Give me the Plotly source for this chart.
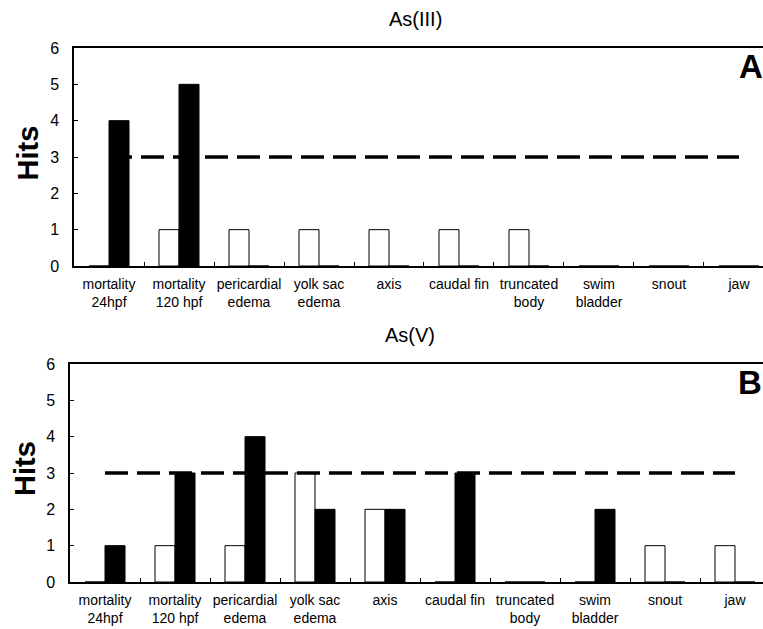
import plotly.graph_objects as go

categories = ["mortality<br>24hpf", "mortality<br>120 hpf", "pericardial<br>edema",
              "yolk sac<br>edema", "axis", "caudal fin", "truncated<br>body",
              "swim<br>bladder", "snout", "jaw"]
as3_white = [0, 1, 1, 1, 1, 1, 1, 0, 0, 0]
as3_black = [4, 5, 0, 0, 0, 0, 0, 0, 0, 0]
as5_white = [0, 1, 1, 3, 2, 0, 0, 0, 1, 1]
as5_black = [1, 3, 4, 2, 2, 3, 0, 2, 0, 0]
threshold = 3
titles = ["As(III)", "As(V)"]
panel_letters = ["A", "B"]

W, H = 763, 629
FONT = "Arial, Liberation Sans, sans-serif"

fig = go.Figure()

def px_x(v):
    return v / W

def px_y(v):
    return 1 - v / H

panels = [
    dict(white=as3_white, black=as3_black, xa="x", ya="y",
         left=74, top=48, bottom=266, xr=[-0.5, 9.343]),
    dict(white=as5_white, black=as5_black, xa="x2", ya="y2",
         left=70, top=364, bottom=582, xr=[-0.5, 9.4]),
]

for p in panels:
    fig.add_trace(go.Bar(x=categories, y=p["white"], xaxis=p["xa"], yaxis=p["ya"],
                         marker=dict(color="white", line=dict(color="black", width=1)),
                         showlegend=False))
    fig.add_trace(go.Bar(x=categories, y=p["black"], xaxis=p["xa"], yaxis=p["ya"],
                         marker=dict(color="black", line=dict(color="black", width=1)),
                         showlegend=False))
    fig.add_trace(go.Scatter(x=[categories[0], categories[-1]], y=[threshold, threshold],
                             xaxis=p["xa"], yaxis=p["ya"], mode="lines",
                             line=dict(color="black", width=3.3, dash="23px,9px"),
                             showlegend=False, hoverinfo="skip"))

xcommon = dict(type="category", tickson="boundaries", ticks="inside", ticklen=4,
               tickcolor="black", showline=True, linecolor="black", linewidth=1.5,
               mirror=True, showgrid=False, zeroline=False, automargin=False,
               tickfont=dict(family=FONT, size=14, color="black"), tickangle=0,
               ticklabelstandoff=4)
ycommon = dict(range=[0, 6], dtick=1, ticks="inside", ticklen=4, tickcolor="black",
               showline=True, linecolor="black", linewidth=1.5, showgrid=False,
               zeroline=False, automargin=False,
               tickfont=dict(family=FONT, size=16, color="black"),
               ticklabelstandoff=10)

p0, p1 = panels
fig.update_layout(
    width=W, height=H,
    margin=dict(l=0, r=0, t=0, b=0, pad=0),
    paper_bgcolor="white", plot_bgcolor="white",
    barmode="group", bargap=0.4286, bargroupgap=0,
    xaxis=dict(domain=[px_x(p0["left"]), 1], range=p0["xr"], anchor="y", **xcommon),
    yaxis=dict(domain=[px_y(p0["bottom"]), px_y(p0["top"])], anchor="x", **ycommon),
    xaxis2=dict(domain=[px_x(p1["left"]), 1], range=p1["xr"], anchor="y2", **xcommon),
    yaxis2=dict(domain=[px_y(p1["bottom"]), px_y(p1["top"])], anchor="x2", **ycommon),
    font=dict(family=FONT, color="black"),
)

annotations = [
    dict(text=titles[0], x=px_x(415), y=px_y(18.5), font=dict(size=20)),
    dict(text=titles[1], x=px_x(410), y=px_y(335), font=dict(size=20)),
    dict(text="<b>Hits</b>", x=px_x(27.5), y=px_y(153), textangle=-90, font=dict(size=29)),
    dict(text="<b>Hits</b>", x=px_x(25), y=px_y(469), textangle=-90, font=dict(size=29)),
    dict(text="<b>%s</b>" % panel_letters[0], x=px_x(751), y=px_y(66), font=dict(size=33)),
    dict(text="<b>%s</b>" % panel_letters[1], x=px_x(750), y=px_y(383), font=dict(size=33)),
]
for a in annotations:
    a.update(xref="paper", yref="paper", xanchor="center", yanchor="middle",
             showarrow=False)
    a["font"].update(family=FONT, color="black")
fig.update_layout(annotations=annotations)

post = ("document.body.style.margin='0';document.body.style.padding='0';"
        "document.body.style.overflow='hidden';"
        "document.documentElement.style.overflow='hidden';")
fig.write_html("out.html", post_script=post, config={"displayModeBar": False})
